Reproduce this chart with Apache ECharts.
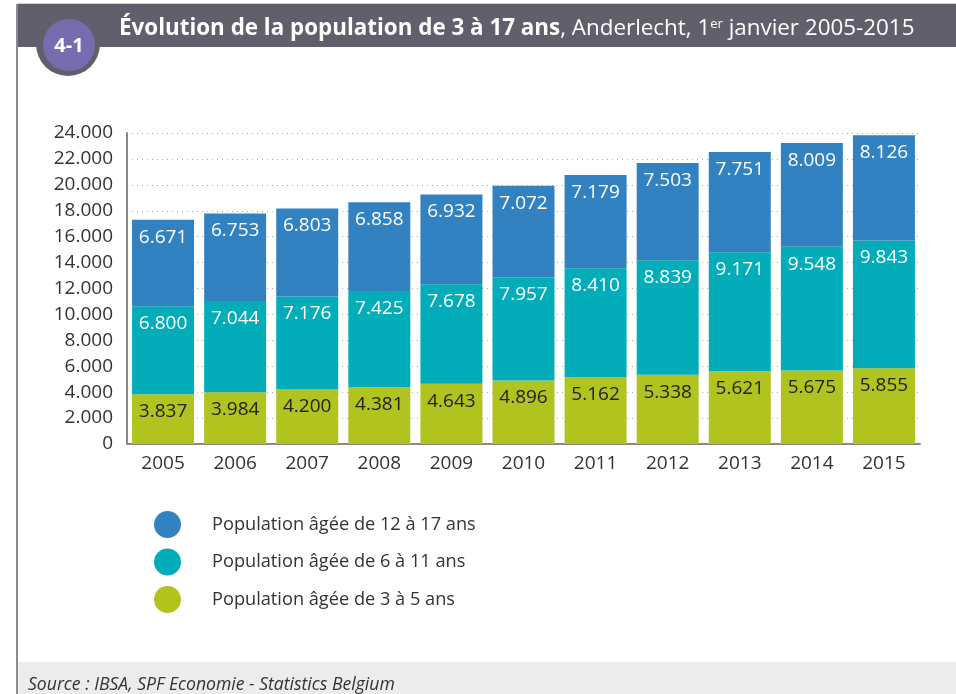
<!DOCTYPE html>
<html><head><meta charset="utf-8">
<script src="https://cdn.jsdelivr.net/npm/echarts@6/dist/echarts.min.js"></script>
<style>html,body{margin:0;padding:0;background:#fff}#c{width:956px;height:694px}</style>
</head><body><div id="c"></div>
<script>
const years = ['2005','2006','2007','2008','2009','2010','2011','2012','2013','2014','2015'];
const age3to5 = [3837, 3984, 4200, 4381, 4643, 4896, 5162, 5338, 5621, 5675, 5855];
const age6to11 = [6800, 7044, 7176, 7425, 7678, 7957, 8410, 8839, 9171, 9548, 9843];
const age12to17 = [6671, 6753, 6803, 6858, 6932, 7072, 7179, 7503, 7751, 8009, 8126];
const seriesNames = ['Population âgée de 12 à 17 ans','Population âgée de 6 à 11 ans','Population âgée de 3 à 5 ans'];

const FONT = '"Open Sans", "Noto Sans", sans-serif';
const fmt = v => String(v).replace(/\B(?=(\d{3})+(?!\d))/g, '.');
const chart = echarts.init(document.getElementById('c'), null, {renderer:'canvas'});
function barSeries(name, data, color, labelColor){
  return {
    name, type:'bar', stack:'total', data, barCategoryGap:'14%',
    itemStyle:{color},
    label:{show:true, position:'insideTop', distance:8, color:labelColor, fontSize:19, fontFamily:FONT,
      formatter:p=>fmt(p.value)}
  };
}
chart.setOption({
  animation:false,
  textStyle:{fontFamily:FONT},
  graphic:[
    {type:'rect', shape:{x:17,y:3,width:939,height:1}, style:{fill:'#d0d0d0'}},
    {type:'rect', shape:{x:17,y:4,width:939,height:43}, style:{fill:'#625f6d'}},
    {type:'rect', shape:{x:16,y:4,width:2,height:690}, style:{fill:'#8d8a96'}},
    {type:'rect', shape:{x:18,y:662,width:938,height:32}, style:{fill:'#ececec'}},
    {type:'circle', shape:{cx:68,cy:44,r:32}, style:{fill:'#625f6d'}},
    {type:'circle', shape:{cx:69,cy:45,r:26}, style:{fill:'#776dae'}},
    {type:'text', x:69, y:46, style:{text:'4-1', fill:'#fff', font:'bold 20px '+FONT, align:'center', verticalAlign:'middle'}},
    {type:'text', x:28, y:685, style:{text:'Source : IBSA, SPF Economie - Statistics Belgium', fill:'#333', font:'italic 17.6px '+FONT, verticalAlign:'middle'}},
    {type:'text', x:119, y:29, style:{
      text:'{b|Évolution de la population de 3 à 17 ans}{n|, Anderlecht, 1}{s|er}{n| janvier 2005-2015}',
      verticalAlign:'middle',
      rich:{
        b:{fill:'#fff', fontWeight:'bold', fontSize:22.4, fontFamily:FONT},
        n:{fill:'#fff', fontSize:22.4, fontFamily:FONT},
        s:{fill:'#fff', fontSize:13, fontFamily:FONT, verticalAlign:'top', padding:[0,0,10,0]}
      }}}
  ],
  legend:{
    orient:'vertical', left:149, top:506, itemWidth:27, itemHeight:27, itemGap:10.5,
    icon:'circle', data:seriesNames,
    textStyle:{fontSize:18.2, color:'#333', fontFamily:FONT, padding:[0,0,0,26]}
  },
  grid:{left:127, top:133, width:793, height:311, containLabel:false},
  xAxis:{type:'category', data:years,
    axisLine:{lineStyle:{color:'#888', width:2}}, axisTick:{show:false},
    axisLabel:{fontSize:19, color:'#333', margin:10, fontFamily:FONT}},
  yAxis:{type:'value', min:0, max:24000, interval:2000,
    axisLine:{show:true, lineStyle:{color:'#888', width:2}}, axisTick:{show:false},
    splitLine:{lineStyle:{color:'#aaa', type:[1,4], width:1}},
    axisLabel:{fontSize:19, color:'#333', margin:14, fontFamily:FONT, formatter:v=>fmt(v)}},
  series:[
    barSeries(seriesNames[2], age3to5, '#b1c31e', '#222'),
    barSeries(seriesNames[1], age6to11, '#02adb9', '#fff'),
    barSeries(seriesNames[0], age12to17, '#3282c2', '#fff')
  ]
});
</script></body></html>
